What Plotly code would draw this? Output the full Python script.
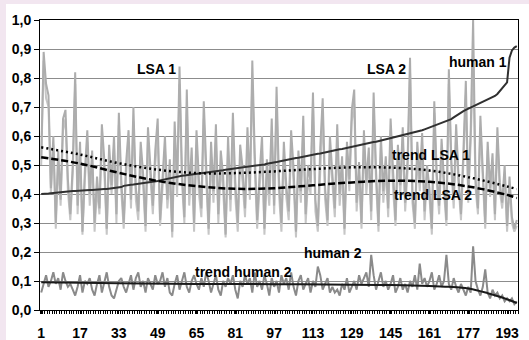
import plotly.graph_objects as go

categories = list(range(1, 198))

lsa1 = [0.52, 0.89, 0.78, 0.74, 0.42, 0.60, 0.30, 0.55, 0.38, 0.66, 0.69, 0.45, 0.33, 0.50, 0.82, 0.36, 0.58, 0.27, 0.48, 0.62,
        0.40, 0.55, 0.30, 0.46, 0.35, 0.64, 0.52, 0.28, 0.57, 0.43, 0.60, 0.33, 0.68, 0.45, 0.30, 0.51, 0.62, 0.38, 0.70, 0.42,
        0.34, 0.58, 0.47, 0.29, 0.63, 0.50, 0.36, 0.55, 0.66, 0.31, 0.45, 0.60, 0.38, 0.52, 0.27, 0.65, 0.43, 0.84, 0.48, 0.32,
        0.76, 0.40, 0.56, 0.30, 0.62, 0.45, 0.35, 0.72, 0.50, 0.28, 0.58, 0.41, 0.64, 0.33, 0.55, 0.46, 0.26, 0.60, 0.38, 0.68,
        0.44, 0.30, 0.57, 0.49, 0.35, 0.63, 0.42, 0.86, 0.54, 0.31, 0.47, 0.60, 0.28, 0.52, 0.40, 0.66, 0.36, 0.77, 0.45, 0.30,
        0.58, 0.43, 0.34, 0.62, 0.49, 0.27, 0.55, 0.41, 0.67, 0.33, 0.50, 0.44, 0.75, 0.38, 0.29, 0.56, 0.73, 0.42, 0.31, 0.60,
        0.47, 0.35, 0.64, 0.40, 0.53, 0.28, 0.58, 0.45, 0.69, 0.76, 0.37, 0.51, 0.30, 0.62, 0.44, 0.56, 0.34, 0.75, 0.48, 0.29,
        0.60, 0.41, 0.53, 0.35, 0.66, 0.46, 0.31, 0.57, 0.43, 0.63, 0.37, 0.52, 0.87, 0.40, 0.30, 0.58, 0.45, 0.61, 0.34, 0.50,
        0.42, 0.28, 0.72, 0.47, 0.36, 0.59, 0.44, 0.31, 0.83, 0.52, 0.38, 0.64, 0.46, 0.33, 0.55, 0.79, 0.40, 0.62, 1.00, 0.45,
        0.35, 0.67, 0.48, 0.30, 0.58, 0.42, 0.54, 0.33, 0.63, 0.44, 0.37, 0.50, 0.29, 0.46, 0.32, 0.28, 0.31]

lsa2 = [0.50, 0.86, 0.73, 0.70, 0.40, 0.57, 0.28, 0.51, 0.36, 0.62, 0.66, 0.41, 0.31, 0.47, 0.78, 0.33, 0.55, 0.26, 0.45, 0.58,
        0.36, 0.52, 0.27, 0.42, 0.33, 0.60, 0.48, 0.26, 0.53, 0.40, 0.56, 0.30, 0.64, 0.41, 0.28, 0.47, 0.58, 0.35, 0.65, 0.38,
        0.31, 0.53, 0.43, 0.27, 0.58, 0.46, 0.33, 0.50, 0.61, 0.29, 0.41, 0.55, 0.35, 0.47, 0.25, 0.60, 0.39, 0.78, 0.44, 0.30,
        0.70, 0.36, 0.51, 0.27, 0.57, 0.40, 0.32, 0.66, 0.45, 0.26, 0.53, 0.37, 0.58, 0.30, 0.50, 0.41, 0.25, 0.55, 0.34, 0.62,
        0.39, 0.27, 0.52, 0.44, 0.32, 0.57, 0.38, 0.80, 0.49, 0.28, 0.42, 0.55, 0.26, 0.47, 0.36, 0.60, 0.33, 0.71, 0.40, 0.27,
        0.53, 0.39, 0.31, 0.57, 0.44, 0.25, 0.50, 0.37, 0.62, 0.30, 0.45, 0.40, 0.70, 0.34, 0.27, 0.51, 0.68, 0.38, 0.29, 0.55,
        0.43, 0.32, 0.59, 0.36, 0.49, 0.26, 0.54, 0.41, 0.65, 0.71, 0.34, 0.47, 0.28, 0.58, 0.40, 0.52, 0.31, 0.70, 0.44, 0.27,
        0.56, 0.37, 0.49, 0.32, 0.62, 0.42, 0.29, 0.53, 0.40, 0.59, 0.34, 0.48, 0.82, 0.37, 0.28, 0.54, 0.41, 0.57, 0.31, 0.46,
        0.39, 0.26, 0.68, 0.44, 0.33, 0.55, 0.41, 0.29, 0.78, 0.49, 0.35, 0.60, 0.43, 0.31, 0.51, 0.74, 0.37, 0.58, 0.86, 0.42,
        0.33, 0.63, 0.45, 0.28, 0.55, 0.39, 0.51, 0.31, 0.59, 0.41, 0.35, 0.47, 0.27, 0.43, 0.30, 0.27, 0.29]

human1 = [0.400, 0.400, 0.401, 0.402, 0.403, 0.404, 0.405, 0.405, 0.406, 0.407,
          0.408, 0.408, 0.409, 0.410, 0.410, 0.411, 0.412, 0.412, 0.413, 0.413,
          0.414, 0.414, 0.415, 0.415, 0.416, 0.416, 0.417, 0.417, 0.418, 0.418,
          0.419, 0.420, 0.421, 0.424, 0.428, 0.430, 0.431, 0.432, 0.433, 0.434,
          0.435, 0.436, 0.437, 0.438, 0.439, 0.440, 0.442, 0.443, 0.445, 0.447,
          0.449, 0.451, 0.452, 0.454, 0.456, 0.458, 0.460, 0.462, 0.463, 0.464,
          0.465, 0.467, 0.468, 0.469, 0.470, 0.471, 0.472, 0.474, 0.475, 0.476,
          0.477, 0.478, 0.479, 0.480, 0.481, 0.482, 0.484, 0.485, 0.486, 0.487,
          0.488, 0.489, 0.490, 0.491, 0.492, 0.494, 0.495, 0.496, 0.497, 0.498,
          0.500, 0.501, 0.502, 0.504, 0.505, 0.507, 0.508, 0.510, 0.512, 0.514,
          0.515, 0.517, 0.519, 0.520, 0.522, 0.524, 0.525, 0.527, 0.528, 0.530,
          0.532, 0.533, 0.535, 0.537, 0.539, 0.540, 0.542, 0.544, 0.546, 0.547,
          0.549, 0.550, 0.552, 0.554, 0.555, 0.557, 0.559, 0.560, 0.562, 0.564,
          0.566, 0.568, 0.570, 0.572, 0.573, 0.575, 0.577, 0.579, 0.580, 0.582,
          0.584, 0.586, 0.588, 0.590, 0.592, 0.594, 0.596, 0.598, 0.600, 0.602,
          0.604, 0.606, 0.608, 0.610, 0.612, 0.614, 0.617, 0.620, 0.623, 0.626,
          0.629, 0.632, 0.635, 0.638, 0.641, 0.644, 0.647, 0.650, 0.654, 0.658,
          0.664, 0.670, 0.676, 0.682, 0.686, 0.690, 0.694, 0.698, 0.700, 0.704,
          0.708, 0.712, 0.716, 0.720, 0.724, 0.728, 0.733, 0.738, 0.745, 0.755,
          0.765, 0.775, 0.785, 0.870, 0.895, 0.905, 0.910]

human2 = [0.06, 0.09, 0.12, 0.08, 0.10, 0.13, 0.09, 0.11, 0.07, 0.13, 0.10, 0.08, 0.09, 0.07, 0.05, 0.08, 0.12, 0.06, 0.10, 0.09,
          0.11, 0.07, 0.05, 0.09, 0.12, 0.06, 0.10, 0.13, 0.08, 0.05, 0.04, 0.07, 0.10, 0.11, 0.08, 0.06, 0.09, 0.12, 0.07, 0.11,
          0.13, 0.08, 0.10, 0.06, 0.11, 0.09, 0.07, 0.12, 0.09, 0.10, 0.13, 0.08, 0.11, 0.06, 0.05, 0.09, 0.12, 0.07, 0.10, 0.13,
          0.08, 0.06, 0.10, 0.12, 0.09, 0.07, 0.11, 0.08, 0.13, 0.10, 0.06, 0.09, 0.12, 0.07, 0.05, 0.10, 0.08, 0.11, 0.09, 0.12,
          0.07, 0.04, 0.10, 0.08, 0.12, 0.09, 0.11, 0.06, 0.13, 0.08, 0.10, 0.07, 0.12, 0.09, 0.05, 0.11, 0.08, 0.10, 0.06, 0.12,
          0.09, 0.11, 0.07, 0.13, 0.08, 0.05, 0.10, 0.12, 0.07, 0.09, 0.11, 0.06, 0.10, 0.08, 0.15, 0.12, 0.07, 0.09, 0.11, 0.06,
          0.08, 0.06, 0.07, 0.05, 0.09, 0.07, 0.11, 0.06, 0.08, 0.10, 0.07, 0.12, 0.09, 0.11, 0.13, 0.08, 0.19, 0.12, 0.07, 0.10,
          0.13, 0.08, 0.10, 0.07, 0.09, 0.12, 0.06, 0.08, 0.11, 0.07, 0.09, 0.06, 0.10, 0.08, 0.12, 0.07, 0.16, 0.09, 0.11, 0.08,
          0.10, 0.13, 0.07, 0.09, 0.12, 0.08, 0.10, 0.19, 0.09, 0.07, 0.11, 0.08, 0.06, 0.09, 0.07, 0.05, 0.08, 0.06, 0.22, 0.10,
          0.07, 0.05, 0.08, 0.14, 0.06, 0.04, 0.07, 0.05, 0.06, 0.04, 0.05, 0.03, 0.04, 0.03, 0.04, 0.02, 0.03]

trend_x = [1, 17, 33, 49, 65, 81, 97, 113, 129, 145, 161, 177, 193, 197]
trend_lsa1 = [0.561, 0.536, 0.506, 0.484, 0.472, 0.472, 0.478, 0.486, 0.492, 0.491, 0.481, 0.458, 0.426, 0.417]
trend_lsa2 = [0.527, 0.505, 0.473, 0.445, 0.427, 0.418, 0.420, 0.430, 0.440, 0.446, 0.442, 0.426, 0.397, 0.386]

trend_h2_x = [1, 33, 65, 97, 129, 145, 161, 169, 177, 185, 191, 197]
trend_human2 = [0.096, 0.092, 0.090, 0.089, 0.087, 0.086, 0.083, 0.080, 0.074, 0.058, 0.043, 0.024]

x_tick_vals = list(range(1, 198, 16))
x_tick_text = [str(v) for v in x_tick_vals]

labels = [
    ("LSA 1", 48.7, 0.831),
    ("LSA 2", 143.1, 0.831),
    ("human 1", 181.0, 0.855),
    ("trend LSA 1", 161.6, 0.534),
    ("trend LSA 2", 162.5, 0.397),
    ("human 2", 121.2, 0.197),
    ("trend human 2", 84.2, 0.131),
]

FONT = "Liberation Sans, Arial, sans-serif"
LAV = "#F2E6F0"

fig = go.Figure()
fig.add_trace(go.Scatter(x=categories, y=lsa2, mode="lines", line=dict(color="#C6C6C6", width=2), name="LSA 2"))
fig.add_trace(go.Scatter(x=categories, y=lsa1, mode="lines", line=dict(color="#ADADAD", width=2), name="LSA 1"))
fig.add_trace(go.Scatter(x=categories, y=human2, mode="lines", line=dict(color="#8A8A8A", width=2), name="human 2"))
fig.add_trace(go.Scatter(x=categories, y=human1, mode="lines", line=dict(color="#303030", width=2), name="human 1"))
fig.add_trace(go.Scatter(x=trend_x, y=trend_lsa1, mode="lines", line=dict(color="black", width=2.5, dash="2px,3px", shape="spline"), name="trend LSA 1"))
fig.add_trace(go.Scatter(x=trend_x, y=trend_lsa2, mode="lines", line=dict(color="black", width=2.5, dash="7px,3px", shape="spline"), name="trend LSA 2"))
fig.add_trace(go.Scatter(x=trend_h2_x, y=trend_human2, mode="lines", line=dict(color="#1A1A1A", width=2, shape="spline"), name="trend human 2"))

for text, xv, yv in labels:
    fig.add_annotation(x=xv, y=yv, text="<b>%s</b>" % text, showarrow=False,
                       xanchor="center", yanchor="middle",
                       font=dict(family=FONT, size=14, color="black"))

# lavender page strips at top and left
px_x = lambda p: (p - 40) / 478
px_y = lambda p: (310 - p) / 290
fig.add_shape(type="rect", xref="paper", yref="paper",
              x0=px_x(0), x1=px_x(529), y0=px_y(4), y1=px_y(0),
              fillcolor=LAV, line=dict(width=0), layer="below")
fig.add_shape(type="rect", xref="paper", yref="paper",
              x0=px_x(0), x1=px_x(6), y0=px_y(340), y1=px_y(0),
              fillcolor=LAV, line=dict(width=0), layer="below")

fig.update_layout(
    width=529, height=340, autosize=False,
    margin=dict(l=40, r=11, t=20, b=30),
    paper_bgcolor="white", plot_bgcolor="white",
    showlegend=False,
    separators=", ",
    font=dict(family=FONT, size=14, color="black"),
    xaxis=dict(
        range=[0.5, 197.5], tickvals=x_tick_vals, ticktext=x_tick_text,
        showgrid=False, zeroline=False, automargin=False,
        showline=True, linecolor="black", linewidth=1, mirror=True,
        ticks="outside", ticklen=3, tickcolor="black", tickwidth=1,
        ticklabelstandoff=7,
        minor=dict(tick0=0.5, dtick=1, ticks="outside", ticklen=3, tickcolor="black", tickwidth=1),
        tickfont=dict(family=FONT, size=14, color="black", weight="bold"),
    ),
    yaxis=dict(
        range=[0, 1], dtick=0.1, tick0=0, tickformat=".1f",
        showgrid=True, gridcolor="#8C8C8C", gridwidth=1, zeroline=False, automargin=False,
        showline=True, linecolor="black", linewidth=1, mirror=True,
        ticks="outside", ticklen=5, tickcolor="black",
        tickfont=dict(family=FONT, size=14, color="black", weight="bold"),
    ),
)

fig.write_html("out.html", config={"displayModeBar": False},
               post_script="document.body.style.margin='0';document.body.style.overflow='hidden';")
